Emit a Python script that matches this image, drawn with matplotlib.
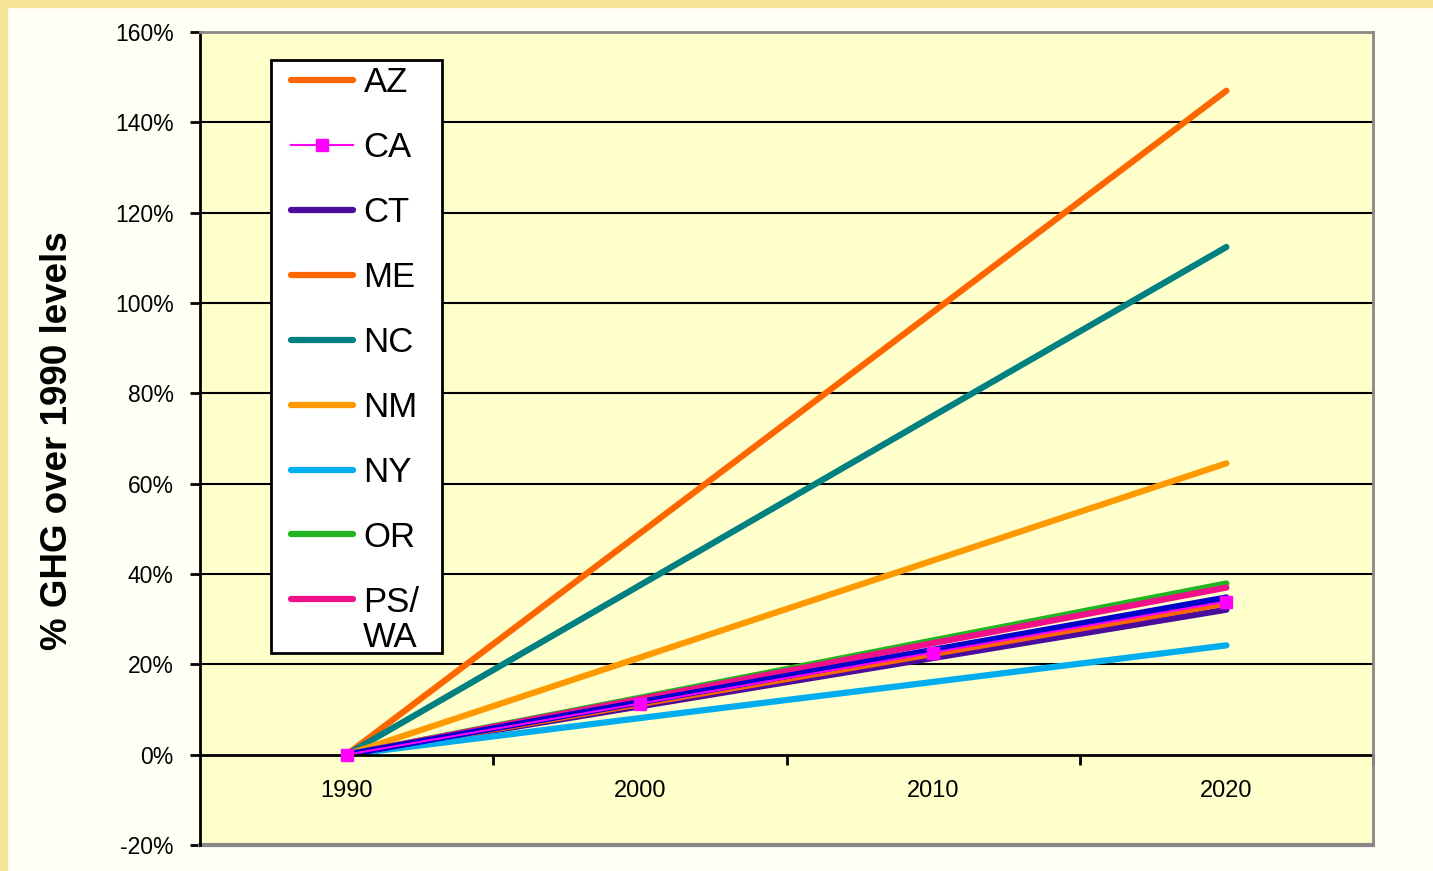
import matplotlib
matplotlib.use("Agg")
import matplotlib.pyplot as plt
from matplotlib.patches import Rectangle

plt.rcParams['font.family'] = ['Liberation Sans', 'DejaVu Sans']

years = ["1990", "2000", "2010", "2020"]
states = ["AZ", "CA", "CT", "ME", "NC", "NM", "NY", "OR", "PS/"]

# % growth over 1990
az = [0, 49, 98, 147]
ca = [0, 11.3, 22.6, 33.9]
ct = [0, 10.7, 21.4, 32.1]
me = [0, 11.2, 22.3, 33.5]
nc = [0, 37.5, 75, 112.4]
nm = [0, 21.5, 43, 64.5]
ny = [0, 8.1, 16.1, 24.2]
orr = [0, 12.6, 25.3, 37.9]
pswa = [0, 12.3, 24.7, 37.0]
other = [0, 11.6, 23.2, 34.8]   # blue line, not in legend

yticks = [-20, 0, 20, 40, 60, 80, 100, 120, 140, 160]

W, H = 1433, 871
fig = plt.figure(figsize=(W / 100, H / 100), dpi=100, facecolor="#FFFFF5")
# gold frame strips top/left
fig.patches.append(Rectangle((0, 1 - 7 / H), 1, 7 / H, transform=fig.transFigure,
                             color="#F7E597", zorder=0))
fig.patches.append(Rectangle((0, 0), 7 / W, 1, transform=fig.transFigure,
                             color="#F7E597", zorder=0))

ax = fig.add_axes([200 / W, 1 - 845 / H, 1173 / W, 813 / H])
ax.set_facecolor("#FFFFCC")

x = list(range(len(years)))
lw = 4.5
kw = dict(lw=lw, solid_capstyle="round")
h_az, = ax.plot(x, az, color="#FF6600", **kw)
h_ct, = ax.plot(x, ct, color="#4B0C9E", **kw)
h_me, = ax.plot(x, me, color="#FF6600", **kw)
h_nc, = ax.plot(x, nc, color="#008080", **kw)
h_nm, = ax.plot(x, nm, color="#FF9900", **kw)
h_ny, = ax.plot(x, ny, color="#00AEEF", **kw)
h_or, = ax.plot(x, orr, color="#22B522", **kw)
h_ps, = ax.plot(x, pswa, color="#F0108A", **kw)
ax.plot(x, other, color="#0000CC", **kw)
h_ca, = ax.plot(x, ca, color="#FF00FF", lw=1.5, marker="s", markersize=8, zorder=5)

ax.set_xlim(-0.5, 3.5)
ax.set_ylim(-20, 160)

# gridlines
for v in yticks[2:-1]:
    ax.axhline(v, color="black", lw=1.5, zorder=1)

ax.spines["left"].set_color("black")
ax.spines["left"].set_linewidth(2)
ax.spines["bottom"].set_position(("data", 0))
ax.spines["bottom"].set_color("black")
ax.spines["bottom"].set_linewidth(2)
ax.spines["bottom"].set_zorder(2)
ax.spines["top"].set_color("#888888")
ax.spines["top"].set_linewidth(2)
ax.spines["right"].set_color("#888888")
ax.spines["right"].set_linewidth(2)
ax.axhline(-20, color="#888888", lw=3, clip_on=False)

ax.set_yticks(yticks)
ax.set_yticklabels([f"{v}%" for v in yticks])
ax.tick_params(axis="y", direction="out", length=7, width=2, pad=12, labelsize=16.5)

ax.set_xticks(x)
ax.set_xticklabels(years)
ax.tick_params(axis="x", which="major", length=0, pad=18, labelsize=17)
ax.set_xticks([0.5, 1.5, 2.5, 3.5], minor=True)
ax.tick_params(axis="x", which="minor", direction="out", length=7, width=2)

fig.text(58 / W, 1 - 441 / H, "% GHG over 1990 levels", rotation=90,
         ha="center", va="center", fontsize=26.5, fontweight="bold")

# legend box drawn separately so padding can match
fig.patches.append(Rectangle((271 / W, 1 - 653 / H), 171 / W, 593 / H,
                             transform=fig.transFigure, facecolor="white",
                             edgecolor="black", lw=2, zorder=9))
handles = [h_az, h_ca, h_ct, h_me, h_nc, h_nm, h_ny, h_or, h_ps]
leg = fig.legend(handles, states, loc="upper left", bbox_to_anchor=(291 / W, 1 - 66 / H),
                 borderaxespad=0, fontsize=25, labelspacing=0.92, handlelength=1.79,
                 handletextpad=0.3, borderpad=0, frameon=False)
leg.set_zorder(10)
fig.text(363 / W, 1 - 637 / H, "WA", fontsize=25, ha="left", va="center", zorder=11)

fig.savefig("out.png", dpi=100, facecolor=fig.get_facecolor())
